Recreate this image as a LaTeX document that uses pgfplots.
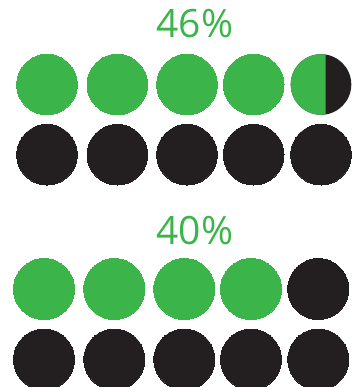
\documentclass[border=0pt]{standalone}
\usepackage{pgfplots}
\pgfplotsset{compat=1.18}
\usepackage{fontspec}
\setmainfont{Open Sans}
\definecolor{pgreen}{RGB}{59,181,74}
\definecolor{pdark}{RGB}{35,31,32}
% circle filled green on its left part (area share 0.6), dark on the rest
\pgfdeclareplotmark{splitcircle}{%
  \pgfpathcircle{\pgfpointorigin}{\pgfplotmarksize}%
  \pgfsetfillcolor{pdark}\pgfusepathqfill
  \pgfscope
    \pgfpathrectangle{\pgfpoint{-\pgfplotmarksize}{-\pgfplotmarksize}}{\pgfpoint{1.156\pgfplotmarksize}{2\pgfplotmarksize}}%
    \pgfusepath{clip}%
    \pgfpathcircle{\pgfpointorigin}{\pgfplotmarksize}%
    \pgfsetfillcolor{pgreen}\pgfusepathqfill
  \endpgfscope
}
\begin{document}
\begin{tikzpicture}
\begin{axis}[name=ax, width=357pt, height=387pt, scale only axis,
  xmin=0, xmax=357, ymin=0, ymax=387, y dir=reverse,
  hide axis, clip=true]
% 46% group
\addplot[only marks, mark=*, mark size=30.3pt, mark options={draw=pgreen, fill=pgreen, line width=0pt}]
  coordinates {(47,84.5) (117.3,84.5) (187,84.5) (253.7,84.5)};
\addplot[only marks, mark=splitcircle, mark size=30.3pt]
  coordinates {(321,84.5)};
\addplot[only marks, mark=*, mark size=30.3pt, mark options={draw=pdark, fill=pdark, line width=0pt}]
  coordinates {(47,154.7) (117.3,154.7) (187,154.7) (253.7,154.7) (321,154.7)};
% 40% group
\addplot[only marks, mark=*, mark size=30.5pt, mark options={draw=pgreen, fill=pgreen, line width=0pt}]
  coordinates {(44,289) (114.3,289) (184.3,289) (251,289)};
\addplot[only marks, mark=*, mark size=30.5pt, mark options={draw=pdark, fill=pdark, line width=0pt}]
  coordinates {(318.3,289) (44,359.5) (114.3,359.5) (184.3,359.5) (251,359.5) (318.3,359.5)};
\node[anchor=base, text=pgreen, font=\fontsize{39}{39}\selectfont, inner sep=0pt] at (axis cs:195,38) {46\%};
\node[anchor=base, text=pgreen, font=\fontsize{39}{39}\selectfont, inner sep=0pt] at (axis cs:195,244) {40\%};
\end{axis}
\pgfresetboundingbox
\useasboundingbox (ax.south west) rectangle (ax.north east);
\end{tikzpicture}
\end{document}
